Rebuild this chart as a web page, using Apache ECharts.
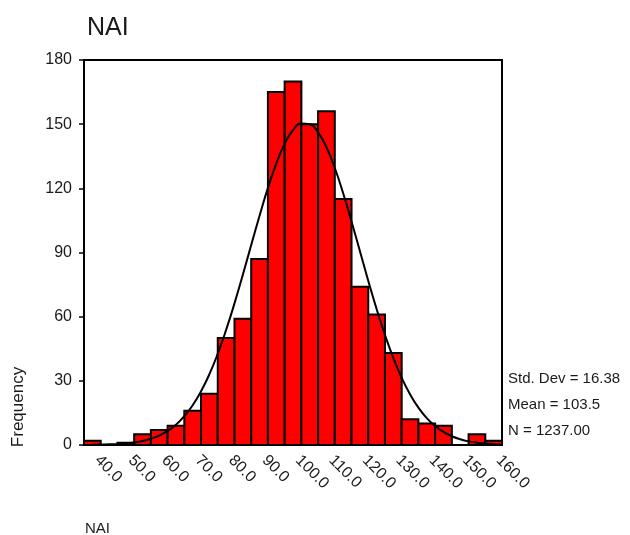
<!DOCTYPE html>
<html>
<head>
<meta charset="utf-8">
<script src="https://cdn.jsdelivr.net/npm/echarts@6/dist/echarts.min.js"></script>
<style>
  html, body { margin: 0; padding: 0; background: #fff; }
  #chart { width: 630px; height: 535px; }
</style>
</head>
<body>
<div id="chart"></div>
<script>
// bin centres (width 5) and counts
var binCenters = [40, 45, 50, 55, 60, 65, 70, 75, 80, 85, 90, 95, 100, 105, 110, 115, 120, 125, 130, 135, 140, 145, 150, 155, 160];
var binCounts = [2, 0, 1, 5, 7, 9, 16, 24, 50, 59, 87, 165, 170, 150, 156, 115, 74, 61, 43, 12, 10, 9, 0, 5, 2];
var binWidth = 5;

// fitted normal curve
var curveX = [40, 42.5, 45, 47.5, 50, 52.5, 55, 57.5, 60, 62.5, 65, 67.5, 70, 72.5, 75, 77.5, 80, 82.5, 85, 87.5, 90, 92.5, 95, 97.5, 100, 102.5, 105, 107.5, 110, 112.5, 115, 117.5, 120, 122.5, 125, 127.5, 130, 132.5, 135, 137.5, 140, 142.5, 145, 147.5, 150, 152.5, 155, 157.5, 160, 162.5];
var curveY = [0.1, 0.2, 0.3, 0.4, 0.7, 1.2, 1.9, 2.9, 4.4, 6.6, 9.5, 13.5, 18.6, 25.1, 33.1, 42.7, 53.8, 66.2, 79.6, 93.5, 107.2, 120.2, 131.6, 140.8, 147.2, 150.3, 150.0, 146.2, 139.2, 129.5, 117.7, 104.5, 90.7, 76.8, 63.6, 51.5, 40.7, 31.4, 23.7, 17.5, 12.6, 8.9, 6.1, 4.1, 2.7, 1.7, 1.1, 0.7, 0.4, 0.2];

var xLabels = [40, 50, 60, 70, 80, 90, 100, 110, 120, 130, 140, 150, 160];
var yTicks = [0, 30, 60, 90, 120, 150, 180];

var statLines = ['Std. Dev = 16.38', 'Mean = 103.5', 'N = 1237.00'];

var font = '"Liberation Sans", Arial, sans-serif';
var myCharts = echarts.init(document.getElementById('chart'));

var option = {
  animation: false,
  backgroundColor: '#fff',
  title: {
    text: 'NAI',
    left: 82,
    top: 11,
    textStyle: { fontFamily: font, fontSize: 25, fontWeight: 'normal', color: '#1a1a1a' }
  },
  grid: {
    left: 84, right: 128, top: 60, bottom: 90,
    show: true, borderColor: '#000', borderWidth: 2
  },
  xAxis: {
    type: 'value',
    min: binCenters[0] - binWidth / 2,
    max: binCenters[binCenters.length - 1] + binWidth / 2,
    axisLine: { lineStyle: { color: '#000', width: 2 } },
    axisTick: { show: false },
    splitLine: { show: false },
    axisLabel: {
      customValues: xLabels,
      rotate: -45,
      margin: 8,
      padding: [0, 0, 0, 7],
      fontFamily: font,
      fontSize: 16,
      color: '#1a1a1a',
      formatter: function (v) { return v.toFixed(1); }
    }
  },
  yAxis: {
    type: 'value',
    min: yTicks[0],
    max: yTicks[yTicks.length - 1],
    interval: 30,
    axisLine: { show: true, lineStyle: { color: '#000', width: 2 } },
    axisTick: { show: true, length: 5, lineStyle: { color: '#000', width: 1.5 } },
    splitLine: { show: false },
    axisLabel: { margin: 12, fontFamily: font, fontSize: 16, color: '#1a1a1a' }
  },
  series: [
    {
      type: 'custom',
      data: binCenters.map(function (c, i) { return [c, binCounts[i]]; }),
      renderItem: function (params, api) {
        var c = api.value(0), v = api.value(1);
        if (!v) return null;
        var p0 = api.coord([c - binWidth / 2, 0]);
        var p1 = api.coord([c + binWidth / 2, v]);
        return {
          type: 'rect',
          shape: { x: p0[0], y: p1[1], width: p1[0] - p0[0], height: p0[1] - p1[1] },
          style: { fill: '#ff0000', stroke: '#000', lineWidth: 2 }
        };
      },
      z: 2
    },
    {
      type: 'line',
      data: curveX.map(function (x, i) { return [x, curveY[i]]; }),
      smooth: true,
      symbol: 'none',
      lineStyle: { color: '#000', width: 2 },
      z: 3
    }
  ],
  graphic: [
    {
      type: 'text', x: 18, y: 407, rotation: Math.PI / 2,
      style: { text: 'Frequency', fontFamily: font, fontSize: 17, fill: '#1a1a1a', align: 'center', verticalAlign: 'middle' }
    },
    {
      type: 'text', left: 85, top: 521,
      style: { text: 'NAI', fontFamily: font, fontSize: 15, fill: '#1a1a1a' }
    }
  ].concat(statLines.map(function (s, i) {
    return {
      type: 'text', x: 508, y: 379 + i * 26,
      style: { text: s, fontFamily: font, fontSize: 15, fill: '#1a1a1a', verticalAlign: 'middle' }
    };
  }))
};

myCharts.setOption(option);
</script>
</body>
</html>
